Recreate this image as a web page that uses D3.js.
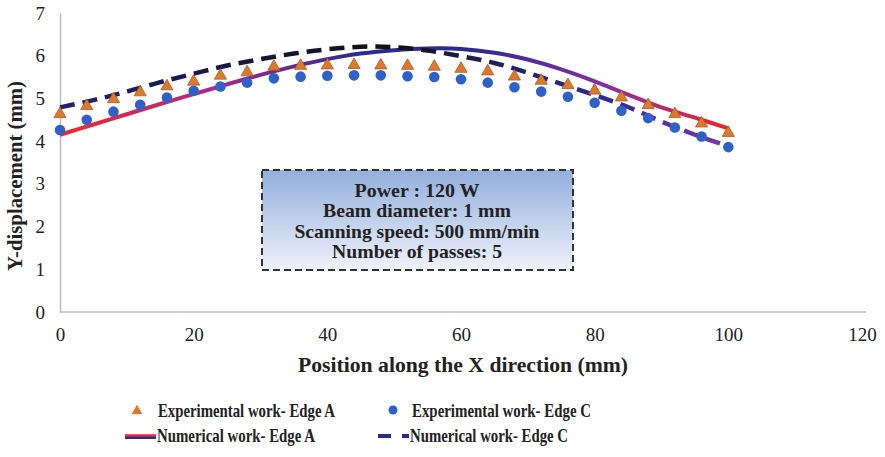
<!DOCTYPE html>
<html>
<head>
<meta charset="utf-8">
<script src="https://cdn.jsdelivr.net/npm/d3@7/dist/d3.min.js"></script>
<style>
  body { margin: 0; background: #fff; }
  svg text { font-family: "Liberation Serif", "DejaVu Serif", serif; fill: #222; }
</style>
</head>
<body>
<svg id="chart" width="885" height="457"></svg>
<script>
// experimental points, every 4 mm
let expX = d3.range(0, 101, 4);
let expEdgeA = [4.61, 4.80, 4.96, 5.12, 5.26, 5.37, 5.51, 5.59, 5.72, 5.74, 5.75, 5.76, 5.75, 5.74, 5.72, 5.67,
                5.61, 5.49, 5.39, 5.29, 5.16, 5.00, 4.82, 4.61, 4.39, 4.17];
let expEdgeC = [4.26, 4.50, 4.69, 4.85, 5.02, 5.18, 5.28, 5.37, 5.47, 5.51, 5.53, 5.54, 5.54, 5.52, 5.50, 5.45,
                5.37, 5.26, 5.16, 5.04, 4.90, 4.71, 4.54, 4.32, 4.11, 3.86];

// numerical curves, every 5 mm
let numX = d3.range(0, 101, 5);
let numEdgeA = [4.15, 4.39, 4.63, 4.87, 5.10, 5.33, 5.55, 5.75, 5.92, 6.05, 6.13, 6.17, 6.16, 6.07, 5.91,
                5.68, 5.40, 5.09, 4.79, 4.55, 4.30];
let numEdgeC = [4.79, 4.96, 5.16, 5.38, 5.58, 5.77, 5.92, 6.05, 6.15, 6.21, 6.20, 6.12, 5.99, 5.83, 5.60,
                5.34, 5.08, 4.80, 4.46, 4.15, 3.88];

let xTicks = [0, 20, 40, 60, 80, 100, 120];
let yTicks = [0, 1, 2, 3, 4, 5, 6, 7];

let infoLines = ["Power : 120 W", "Beam diameter: 1 mm", "Scanning speed: 500 mm/min", "Number of passes: 5"];

let svg = d3.select("#chart");
let serif = "'Liberation Serif', 'DejaVu Serif', serif";

let x = d3.scaleLinear().domain([0, 120]).range([60, 862]);
let y = d3.scaleLinear().domain([0, 7]).range([312, 13]);

let defs = svg.append("defs");

// colour shifts along the numerical curves
let gA = defs.append("linearGradient").attr("id", "gradA")
    .attr("gradientUnits", "userSpaceOnUse")
    .attr("x1", x(0)).attr("x2", x(100)).attr("y1", 0).attr("y2", 0);
[["0%", "#ee2a2a"], ["22%", "#b02a8a"], ["45%", "#2b2a8e"], ["62%", "#2d2a90"], ["82%", "#8a2ea0"], ["100%", "#f0252a"]]
    .forEach(s => gA.append("stop").attr("offset", s[0]).attr("stop-color", s[1]));

let gC = defs.append("linearGradient").attr("id", "gradC")
    .attr("gradientUnits", "userSpaceOnUse")
    .attr("x1", x(0)).attr("x2", x(100)).attr("y1", 0).attr("y2", 0);
[["0%", "#222270"], ["30%", "#15153a"], ["50%", "#111"], ["62%", "#1d1d55"], ["80%", "#2a2a90"], ["100%", "#7a3aa8"]]
    .forEach(s => gC.append("stop").attr("offset", s[0]).attr("stop-color", s[1]));

let gBox = defs.append("linearGradient").attr("id", "gradBox")
    .attr("x1", 0).attr("x2", 0).attr("y1", 0).attr("y2", 1);
gBox.append("stop").attr("offset", "0%").attr("stop-color", "#93afdc");
gBox.append("stop").attr("offset", "100%").attr("stop-color", "#eef2fa");

// axes
let yAxis = svg.append("g").attr("transform", "translate(" + x(0) + ",0)")
    .call(d3.axisLeft(y).tickValues(yTicks).tickFormat(d3.format("d")).tickSize(0).tickPadding(15));
let xAxis = svg.append("g").attr("transform", "translate(0," + y(0) + ")")
    .call(d3.axisBottom(x).tickValues(xTicks).tickFormat(d3.format("d")).tickSize(0).tickPadding(16));
[yAxis, xAxis].forEach(a => {
    a.select(".domain").attr("stroke", "#bdbdbd").attr("stroke-width", 1.5);
    a.selectAll("text").style("font-size", "19px").style("font-family", serif).attr("fill", "#333");
});
xAxis.select(".domain").attr("d", "M" + x(0) + ",0H866");

svg.append("text")
    .attr("transform", "translate(22," + 176 + ") rotate(-90)")
    .attr("text-anchor", "middle")
    .attr("textLength", 190).attr("lengthAdjust", "spacingAndGlyphs")
    .style("font-family", serif).style("font-size", "20px").style("font-weight", "bold")
    .text("Y-displacement (mm)");

svg.append("text")
    .attr("x", 463).attr("y", 372)
    .attr("text-anchor", "middle")
    .attr("textLength", 330).attr("lengthAdjust", "spacingAndGlyphs")
    .style("font-family", serif).style("font-size", "20px").style("font-weight", "bold")
    .text("Position along the X direction (mm)");

// info box
let box = svg.append("g");
box.append("rect")
    .attr("x", 262).attr("y", 170).attr("width", 311).attr("height", 100)
    .attr("fill", "url(#gradBox)")
    .attr("stroke", "#333").attr("stroke-width", 2).attr("stroke-dasharray", "7,4");
let infoWidths = [125, 188, 245, 170];
box.selectAll(".info").data(infoLines).enter().append("text")
    .attr("class", "info")
    .attr("x", 417)
    .attr("y", (d, i) => 197 + i * 20.3)
    .attr("text-anchor", "middle")
    .attr("textLength", (d, i) => infoWidths[i]).attr("lengthAdjust", "spacingAndGlyphs")
    .style("font-family", serif).style("font-size", "19px").style("font-weight", "bold")
    .text(d => d);

// numerical lines
let lineA = d3.line().x((d, i) => x(numX[i])).y(d => y(d)).curve(d3.curveCatmullRom);
svg.append("path").datum(numEdgeA)
    .attr("d", lineA).attr("fill", "none")
    .attr("stroke", "url(#gradA)").attr("stroke-width", 4);

svg.append("path").datum(numEdgeC)
    .attr("d", lineA).attr("fill", "none")
    .attr("stroke", "url(#gradC)").attr("stroke-width", 4.5)
    .attr("stroke-dasharray", "15,8");

// experimental markers
let tri = d3.symbol().type(d3.symbolTriangle).size(64);
svg.selectAll(".triA").data(expEdgeA).enter().append("path")
    .attr("class", "triA")
    .attr("transform", (d, i) => "translate(" + x(expX[i]) + "," + (y(d) - 1) + ")")
    .attr("d", tri)
    .attr("fill", "#dc7a2c").attr("stroke", "#b0582a").attr("stroke-width", 0.8);

svg.selectAll(".cirC").data(expEdgeC).enter().append("circle")
    .attr("class", "cirC")
    .attr("cx", (d, i) => x(expX[i]))
    .attr("cy", d => y(d))
    .attr("r", 5.3)
    .attr("fill", "#2e62c8");

// legend
let leg = svg.append("g");
leg.append("path").attr("d", tri.size(50)).attr("transform", "translate(137,411)")
    .attr("fill", "#dc7a2c");
leg.append("circle").attr("cx", 393).attr("cy", 410).attr("r", 4.5).attr("fill", "#2e62c8");
leg.append("line").attr("x1", 125).attr("x2", 156).attr("y1", 437.5).attr("y2", 437.5)
    .attr("stroke", "#2b2a8e").attr("stroke-width", 3);
leg.append("line").attr("x1", 125).attr("x2", 156).attr("y1", 435.5).attr("y2", 435.5)
    .attr("stroke", "#e8253a").attr("stroke-width", 2.5);
leg.append("line").attr("x1", 378).attr("x2", 409).attr("y1", 436).attr("y2", 436)
    .attr("stroke", "#2a2a8a").attr("stroke-width", 4).attr("stroke-dasharray", "13,11");

let legItems = [
    { label: "Experimental work- Edge A", x: 158, y: 417, w: 177 },
    { label: "Experimental work- Edge C", x: 412, y: 417, w: 179 },
    { label: "Numerical work- Edge A", x: 157, y: 442, w: 158 },
    { label: "Numerical work- Edge C", x: 410, y: 442, w: 158 }
];
leg.selectAll(".lt").data(legItems).enter().append("text")
    .attr("class", "lt")
    .attr("x", d => d.x).attr("y", d => d.y)
    .attr("textLength", d => d.w).attr("lengthAdjust", "spacingAndGlyphs")
    .style("font-family", serif).style("font-size", "19px").style("font-weight", "bold")
    .text(d => d.label);
</script>
</body>
</html>
